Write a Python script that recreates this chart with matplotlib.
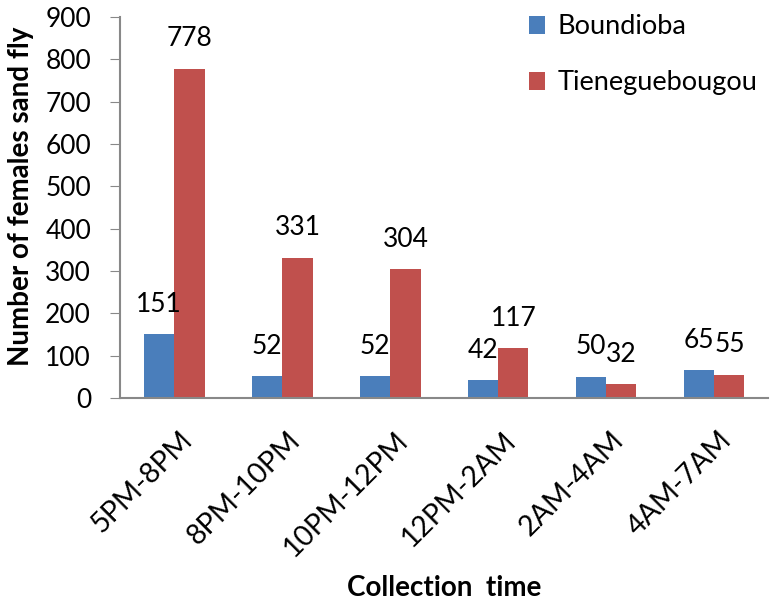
import matplotlib.pyplot as plt
import numpy as np

plt.rcParams['font.family'] = ['Lato', 'DejaVu Sans']

times = ["5PM-8PM", "8PM-10PM", "10PM-12PM", "12PM-2AM", "2AM-4AM", "4AM-7AM"]
boundioba = [151, 52, 52, 42, 50, 65]
tieneguebougou = [778, 331, 304, 117, 32, 55]

fig = plt.figure(figsize=(7.76, 6.02), dpi=100)
ax = fig.add_axes([0.155, 0.339, 0.835, 0.633])

x = np.arange(len(times))
w = 0.28
b1 = ax.bar(x - w/2, boundioba, w, color="#4A7EBB", label="Boundioba")
b2 = ax.bar(x + w/2, tieneguebougou, w, color="#C0504D", label="Tieneguebougou")

# value labels above bars
for bars, vals in [(b1, boundioba), (b2, tieneguebougou)]:
    for r, v in zip(bars, vals):
        ax.annotate(str(v), (r.get_x() + r.get_width()/2, v), xytext=(0, 21.5),
                    textcoords='offset points', ha='center', va='center', fontsize=19)

ax.set_xlim(-0.5, len(times) - 0.5)
ax.set_ylim(0, 900)
ax.set_yticks(np.arange(0, 901, 100))
ax.set_xticks(x + 0.04)
ax.set_xticklabels(times, rotation=45, ha='right', rotation_mode='anchor', fontsize=20.5)
ax.tick_params(axis='y', labelsize=19, length=7, color='#888888', pad=14)
ax.tick_params(axis='x', length=0, pad=21)

for s in ['top', 'right']:
    ax.spines[s].set_visible(False)
for s in ['left', 'bottom']:
    ax.spines[s].set_color('#888888')
    ax.spines[s].set_linewidth(1.5)

ax.set_ylabel("Number of females sand fly", fontsize=20, fontweight='bold')
ax.yaxis.set_label_coords(-0.133, 0.528)
ax.set_xlabel("Collection  time", fontsize=20, fontweight='bold')
ax.xaxis.set_label_coords(0.5, -0.465)

ax.legend(loc='upper right', bbox_to_anchor=(1.0, 1.035), frameon=False, fontsize=19.5,
          borderaxespad=0, handlelength=0.62, handleheight=0.62, handletextpad=0.45,
          labelspacing=1.15)

plt.savefig("out.png", dpi=100)
